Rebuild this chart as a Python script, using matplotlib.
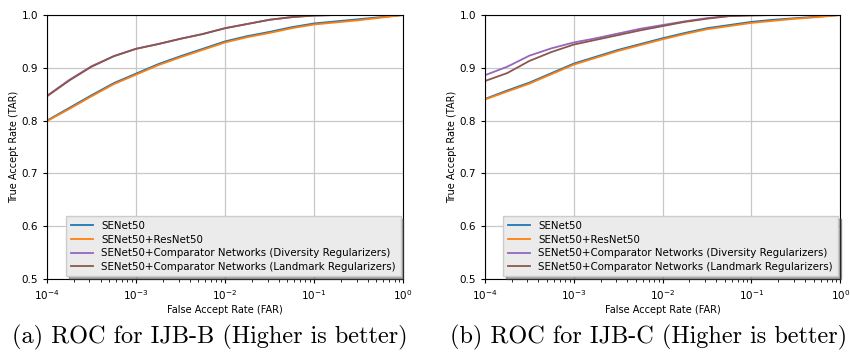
import numpy as np
import matplotlib
matplotlib.use("Agg")
import matplotlib.pyplot as plt

# log10(FAR) sample points
far_exp = [-4, -3.75, -3.5, -3.25, -3, -2.75, -2.5, -2.25, -2,
           -1.75, -1.5, -1.25, -1, -0.75, -0.5, -0.25, 0]

labels = ["SENet50", "SENet50+ResNet50",
          "SENet50+Comparator Networks (Diversity Regularizers)",
          "SENet50+Comparator Networks (Landmark Regularizers)"]
colors = ["tab:blue", "tab:orange", "tab:purple", "tab:brown"]

# IJB-B
b_senet = [0.800, 0.824, 0.848, 0.871, 0.889, 0.907, 0.922, 0.936, 0.950,
           0.960, 0.968, 0.977, 0.984, 0.988, 0.992, 0.996, 1.0]
b_resnet = [0.799, 0.822, 0.846, 0.869, 0.887, 0.905, 0.920, 0.934, 0.948,
            0.958, 0.966, 0.975, 0.982, 0.986, 0.990, 0.995, 1.0]
b_div = [0.847, 0.877, 0.903, 0.922, 0.936, 0.945, 0.955, 0.964, 0.975,
         0.983, 0.991, 0.996, 0.999, 1.0, 1.0, 1.0, 1.0]
b_land = [0.846, 0.876, 0.902, 0.922, 0.936, 0.945, 0.955, 0.964, 0.975,
          0.983, 0.991, 0.996, 0.999, 1.0, 1.0, 1.0, 1.0]

# IJB-C
c_senet = [0.841, 0.857, 0.872, 0.890, 0.908, 0.921, 0.934, 0.945, 0.956,
           0.966, 0.975, 0.981, 0.987, 0.991, 0.994, 0.997, 1.0]
c_resnet = [0.840, 0.855, 0.870, 0.888, 0.906, 0.919, 0.932, 0.943, 0.954,
            0.964, 0.973, 0.979, 0.985, 0.989, 0.993, 0.996, 1.0]
c_div = [0.886, 0.902, 0.923, 0.937, 0.948, 0.956, 0.965, 0.974, 0.981,
         0.988, 0.994, 0.998, 1.0, 1.0, 1.0, 1.0, 1.0]
c_land = [0.875, 0.890, 0.913, 0.930, 0.944, 0.953, 0.962, 0.971, 0.979,
          0.987, 0.993, 0.998, 0.999, 1.0, 1.0, 1.0, 1.0]

far = 10.0 ** np.array(far_exp)

fig = plt.figure(figsize=(8.5, 3.52), dpi=100)
ax1 = fig.add_axes([0.0553, 0.2074, 0.419, 0.75])
ax2 = fig.add_axes([0.5706, 0.2074, 0.418, 0.75])

for ax, series in [(ax1, [b_senet, b_resnet, b_div, b_land]),
                   (ax2, [c_senet, c_resnet, c_div, c_land])]:
    for ys, lab, c in zip(series, labels, colors):
        ax.plot(far, ys, color=c, lw=1.3, label=lab)
    ax.set_xscale("log")
    ax.set_xlim(1e-4, 1)
    ax.set_ylim(0.5, 1.0)
    ax.set_yticks([0.5, 0.6, 0.7, 0.8, 0.9, 1.0])
    ax.grid(True, color="#c8c8c8", lw=0.9)
    ax.tick_params(labelsize=7.5, direction="out", length=3)
    ax.tick_params(which="minor", length=1.8)
    ax.set_xlabel("False Accept Rate (FAR)", fontsize=7, labelpad=2)
    ax.set_ylabel("True Accept Rate (TAR)", fontsize=7, labelpad=2)
    for s in ax.spines.values():
        s.set_color("black")
    leg = ax.legend(loc="lower right", fontsize=7.4, shadow=True, fancybox=False,
                    handlelength=2.2, borderpad=0.45, labelspacing=0.35,
                    framealpha=1, borderaxespad=0.25)
    leg.get_frame().set_facecolor("#ebebeb")
    leg.get_frame().set_edgecolor("#cccccc")

fig.text(0.247, 0.042, "(a) ROC for IJB-B (Higher is better)", ha="center", va="center",
         fontsize=17.5, family="cmr10")
fig.text(0.763, 0.042, "(b) ROC for IJB-C (Higher is better)", ha="center", va="center",
         fontsize=17.5, family="cmr10")

fig.savefig("out.png", dpi=100)
